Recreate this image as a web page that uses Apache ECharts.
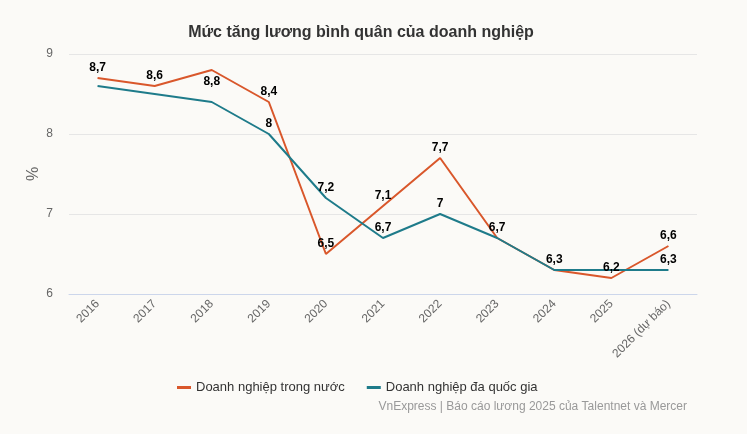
<!DOCTYPE html>
<html lang="vi">
<head>
    <meta charset="utf-8">
    <script src="https://cdn.jsdelivr.net/npm/echarts@6/dist/echarts.min.js"></script>
    <title>Mức tăng lương bình quân của doanh nghiệp</title>
    <style>
        html, body { margin: 0; padding: 0; background: #fbfaf7; }
        #main { width: 747px; height: 434px; }
    </style>
</head>
<body>
<div id="main"></div>
<script type="text/javascript">
    // du lieu doc tu bieu do
    var years = ['2016', '2017', '2018', '2019', '2020', '2021', '2022', '2023', '2024', '2025', '2026 (dự báo)'];
    var trongNuoc = [8.7, 8.6, 8.8, 8.4, 6.5, 7.1, 7.7, 6.7, 6.3, 6.2, 6.6];
    var daQuocGia = [8.6, 8.5, 8.4, 8.0, 7.2, 6.7, 7.0, 6.7, 6.3, 6.3, 6.3];
    var yTicks = [6, 7, 8, 9];

    // nhan bi an / dat duoi diem
    var hideTeal = [0, 1, 2, 7, 8, 9];
    var belowOrange = [2];

    var fmt = function (v) { return String(v).replace('.', ','); };

    var orangeData = trongNuoc.map(function (v, i) {
        return belowOrange.indexOf(i) >= 0 ? {value: v, label: {position: 'bottom', distance: 6}} : v;
    });
    var tealData = daQuocGia.map(function (v, i) {
        return hideTeal.indexOf(i) >= 0 ? {value: v, label: {show: false}} : v;
    });

    var myChart = echarts.init(document.getElementById('main'), null, {renderer: 'canvas'});

    var labelStyle = {
        show: true,
        position: 'top',
        distance: 4,
        color: '#000',
        fontWeight: 'bold',
        fontSize: 12,
        fontFamily: 'Liberation Sans, Arial, sans-serif',
        formatter: function (p) { return fmt(p.value); }
    };

    var option = {
        backgroundColor: '#fbfaf7',
        textStyle: {fontFamily: 'Liberation Sans, Arial, sans-serif'},
        title: [{
            text: 'Mức tăng lương bình quân của doanh nghiệp',
            left: 356,
            textAlign: 'center',
            top: 20,
            textStyle: {fontSize: 16, fontWeight: 'bold', color: '#333'}
        }, {
            text: 'VnExpress | Báo cáo lương 2025 của Talentnet và Mercer',
            right: 55,
            top: 396,
            textStyle: {fontSize: 12, fontWeight: 'normal', color: '#999'}
        }],
        legend: {
            top: 376,
            left: 172,
            itemWidth: 14,
            itemHeight: 3,
            itemGap: 22,
            icon: 'rect',
            textStyle: {fontSize: 13, color: '#333'},
            data: ['Doanh nghiệp trong nước', 'Doanh nghiệp đa quốc gia']
        },
        grid: {left: 69, right: 50, top: 54, bottom: 140},
        xAxis: {
            type: 'category',
            data: years,
            boundaryGap: true,
            axisLine: {lineStyle: {color: '#ccd6eb'}},
            axisTick: {show: false},
            axisLabel: {rotate: 45, color: '#666', fontSize: 12, margin: 8}
        },
        yAxis: {
            type: 'value',
            min: yTicks[0],
            max: yTicks[yTicks.length - 1],
            interval: 1,
            name: '%',
            nameLocation: 'middle',
            nameGap: 27,
            nameMoveOverlap: false,
            nameTextStyle: {fontSize: 16, color: '#666'},
            axisLabel: {color: '#666', fontSize: 12, margin: 16},
            splitLine: {lineStyle: {color: '#e6e6e6'}}
        },
        series: [{
            name: 'Doanh nghiệp trong nước',
            type: 'line',
            data: orangeData,
            symbol: 'circle',
            symbolSize: 0,
            color: '#d9572b',
            lineStyle: {width: 2},
            label: labelStyle
        }, {
            name: 'Doanh nghiệp đa quốc gia',
            type: 'line',
            data: tealData,
            symbol: 'circle',
            symbolSize: 0,
            color: '#1e7b8a',
            lineStyle: {width: 2},
            label: labelStyle
        }]
    };

    myChart.setOption(option);
</script>
</body>
</html>
